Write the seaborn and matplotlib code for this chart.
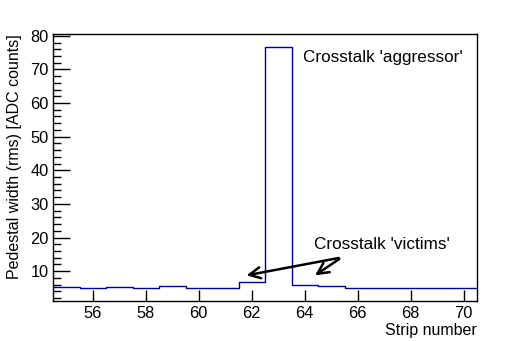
import numpy as np
import pandas as pd
import matplotlib
matplotlib.use("Agg")
import matplotlib.pyplot as plt
import seaborn as sns

# strip numbers and pedestal widths (rms, ADC counts)
strips = [55, 56, 57, 58, 59, 60, 61, 62, 63, 64, 65, 66, 67, 68, 69, 70]
widths = [5.3, 4.9, 5.3, 5.0, 5.7, 5.0, 5.0, 6.8, 76.7, 6.0, 5.5, 5.0, 5.0, 5.0, 5.0, 5.0]

x_ticks = [56, 58, 60, 62, 64, 66, 68, 70]
y_ticks = [10, 20, 30, 40, 50, 60, 70, 80]

color_hist = "#000099"
color_axis = "black"


def create_plot(filename: str) -> None:
    sns.set_theme(style="ticks", rc={
        "axes.edgecolor": color_axis,
        "axes.labelcolor": color_axis,
        "text.color": color_axis,
        "xtick.color": color_axis,
        "ytick.color": color_axis,
        "axes.linewidth": 1.0,
        "xtick.direction": "in",
        "ytick.direction": "in",
        "xtick.top": False,
        "ytick.right": False,
    })
    plt.rcParams["font.family"] = ["Liberation Sans", "DejaVu Sans"]

    df = pd.DataFrame({"strip": strips, "width": widths})

    f, ax = plt.subplots(figsize=(5.3, 3.41), dpi=100)
    f.subplots_adjust(left=0.1, right=0.9, top=0.9, bottom=0.118)

    sns.histplot(
        data=df,
        x="strip",
        weights="width",
        discrete=True,
        element="step",
        fill=False,
        color=color_hist,
        linewidth=1.0,
        ax=ax,
    )

    ax.set_xlim(54.5, 70.5)
    ax.set_ylim(1.2, 80.5)
    ax.set_xticks(x_ticks)
    ax.set_yticks(y_ticks)
    ax.set_yticks(np.arange(2, 80, 2), minor=True)
    ax.tick_params(axis="x", which="major", length=8, width=1, labelsize=11.8, pad=4)
    ax.tick_params(axis="y", which="major", length=12, width=1, labelsize=11.8, pad=3)
    ax.tick_params(axis="y", which="minor", length=6, width=1)
    for s in ax.spines.values():
        s.set_visible(True)
        s.set_color(color_axis)

    ax.set_xlabel("Strip number", fontsize=11.5, loc="right", labelpad=1)
    ax.set_ylabel("Pedestal width (rms) [ADC counts]", fontsize=11.5, loc="top", labelpad=6)

    ax.text(63.93, 73.5, "Crosstalk 'aggressor'", fontsize=12.3, va="center", ha="left")
    ax.text(64.35, 17.8, "Crosstalk 'victims'", fontsize=12.3, va="center", ha="left")

    arrow_kw = dict(arrowstyle="->", color="black", lw=1.8, mutation_scale=20)
    ax.annotate("", xy=(61.7, 8.6), xytext=(65.39, 14.08), arrowprops=arrow_kw)
    ax.annotate("", xy=(64.3, 8.3), xytext=(65.39, 14.08), arrowprops=arrow_kw)

    f.savefig(filename, dpi=100)


def main() -> None:
    create_plot("out.png")


if __name__ == "__main__":
    main()
